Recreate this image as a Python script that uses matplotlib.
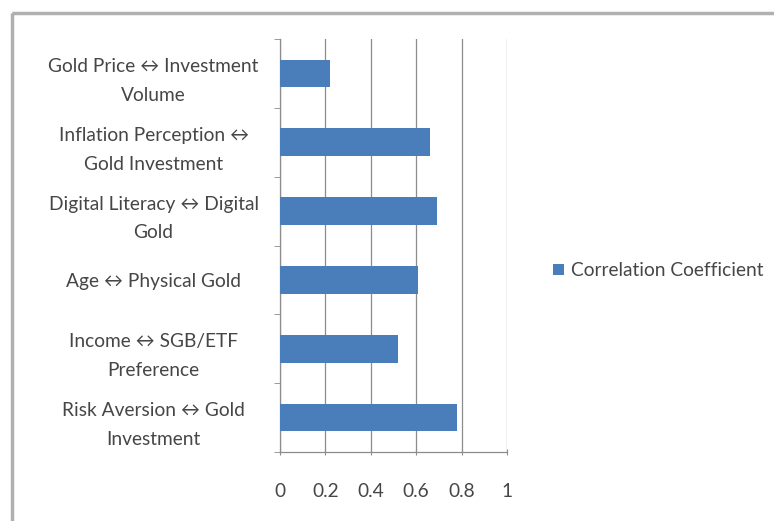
import numpy as np
import matplotlib
matplotlib.use("Agg")
import matplotlib.pyplot as plt
from matplotlib.patches import Rectangle

plt.rcParams['font.family'] = ['Lato', 'DejaVu Sans']

# bottom to top, as drawn
categories = ["Risk Aversion \u2194 Gold\nInvestment",
              "Income \u2194 SGB/ETF\nPreference",
              "Age \u2194 Physical Gold",
              "Digital Literacy \u2194 Digital\nGold",
              "Inflation Perception \u2194\nGold Investment",
              "Gold Price \u2194 Investment\nVolume"]
corr = [0.78, 0.52, 0.61, 0.69, 0.66, 0.22]
xticks = [0, 0.2, 0.4, 0.6, 0.8, 1]
xticklabels = ["0", "0.2", "0.4", "0.6", "0.8", "1"]

W, H = 774, 521
fig = plt.figure(figsize=(W/100, H/100), dpi=100)
ax = fig.add_axes([280/W, 1-452/H, 227/W, 413/H])

text_col = "#464646"
grid_col = "#8c8c8c"
fs = 13.8

y = np.arange(len(categories))
ax.barh(y, corr, height=0.4, color="#4a7ebb", label="Correlation Coefficient", zorder=3)
ax.set_xlim(0, 1)
ax.set_ylim(-0.5, len(categories)-0.5)
ax.set_xticks(xticks)
ax.set_xticklabels(xticklabels, color=text_col, fontsize=fs)
ax.xaxis.grid(True, color=grid_col, linewidth=0.9, zorder=0)
ax.set_yticks(y)
ax.set_yticklabels(categories, color=text_col, fontsize=fs, ha="center",
                   linespacing=1.85)
ax.tick_params(axis="y", length=0, pad=91)
ax.tick_params(axis="x", length=4, direction="inout", color=grid_col, pad=20)
# category separator ticks on the left
ax.set_yticks(np.arange(-0.5, len(categories)), minor=True)
ax.tick_params(axis="y", which="minor", length=4, color=grid_col)

for s in ["top", "right"]:
    ax.spines[s].set_visible(False)
for s in ["left", "bottom"]:
    ax.spines[s].set_color(grid_col)
    ax.spines[s].set_linewidth(0.9)

leg = fig.legend(loc="center left", bbox_to_anchor=(536/W, 1-271/H), frameon=False,
                 fontsize=fs, handlelength=0.55, handleheight=0.55, handletextpad=0.4)
for t in leg.get_texts():
    t.set_color(text_col)

fig.patches.append(Rectangle((12/W, 1-13/H), 1.0, -1.0, transform=fig.transFigure,
                             fill=False, edgecolor="#b0b0b0", linewidth=2.5))

fig.savefig("out.png", dpi=100)
